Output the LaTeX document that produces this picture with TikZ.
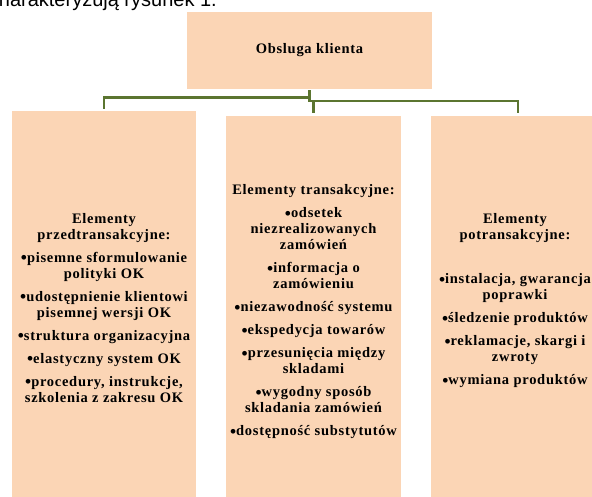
\documentclass[tikz,border=0pt]{standalone}
\usepackage{fontspec}
\setmainfont{Liberation Serif}
\newfontfamily\boxfont[LetterSpace=5]{Liberation Serif}
\newfontfamily\capfont{Liberation Sans}
\definecolor{peach}{HTML}{FBD5B5}
\definecolor{olive}{HTML}{5B7530}
\newcommand{\bul}{\raisebox{-0.08em}{\scalebox{1.2}{•}}}
\tikzset{
  box/.style={fill=peach, draw=none, inner sep=0pt, rectangle},
  boxtext/.style={align=center, inner sep=0pt, font=\boxfont\bfseries\fontsize{14.5}{16}\selectfont, text=black},
  conn/.style={draw=olive, line width=2.75pt, line cap=rect}
}
\begin{document}
\begin{tikzpicture}[x=1pt,y=-1pt]
\useasboundingbox (0,0) rectangle (592,497);
\clip (0,0) rectangle (592,497);
% caption fragment cut at the top
\node[anchor=base east, inner sep=0pt, font=\capfont\fontsize{20}{24}\selectfont, text=black] (cap) at (217,6.5) {charakteryzują rysunek 1.};
% boxes
\node[box, minimum width=245pt, minimum height=77pt, boxtext] (top) at (309.5,50.5) {Obsluga klienta};
\node[box, minimum width=184pt, minimum height=386pt] (left) at (104,304) {};
\node[box, minimum width=175pt, minimum height=381pt] (mid) at (313.5,306.75) {};
\node[box, minimum width=174pt, minimum height=381pt] (right) at (518,306.75) {};
% texts
\node[boxtext] (lefttext) at (104,308) {Elementy\\przedtransakcyjne:\\[7pt]
\bul pisemne sformulowanie\\polityki OK\\[7pt]
\bul udostępnienie klientowi\\pisemnej wersji OK\\[7pt]
\bul struktura organizacyjna\\[7pt]
\bul elastyczny system OK\\[7pt]
\bul procedury, instrukcje,\\szkolenia z zakresu OK};
\node[boxtext] (midtext) at (313.5,312) {Elementy transakcyjne:\\[7pt]
\bul odsetek\\niezrealizowanych\\zamówień\\[7pt]
\bul informacja o\\zamówieniu\\[7pt]
\bul niezawodność systemu\\[7pt]
\bul ekspedycja towarów\\[7pt]
\bul przesunięcia między\\skladami\\[7pt]
\bul wygodny sposób\\skladania zamówień\\[7pt]
\bul dostępność substytutów};
\node[boxtext] (righttext) at (515,301) {Elementy\\potransakcyjne:\\[28pt]
\bul instalacja, gwarancja\\poprawki\\[7pt]
\bul śledzenie produktów\\[7pt]
\bul reklamacje, skargi i\\zwroty\\[7pt]
\bul wymiana produktów};
% connectors
\draw[conn] ([yshift=-2pt]top.south) |- ([yshift=13pt]left.north) -- ([yshift=3pt]left.north);
\draw[conn] ([yshift=-2pt]top.south) |- ([yshift=15pt]mid.north) -- ([yshift=4pt]mid.north);
\draw[conn] ([yshift=-2pt]top.south) |- ([yshift=15pt]right.north) -- ([yshift=4pt]right.north);
\end{tikzpicture}
\end{document}
